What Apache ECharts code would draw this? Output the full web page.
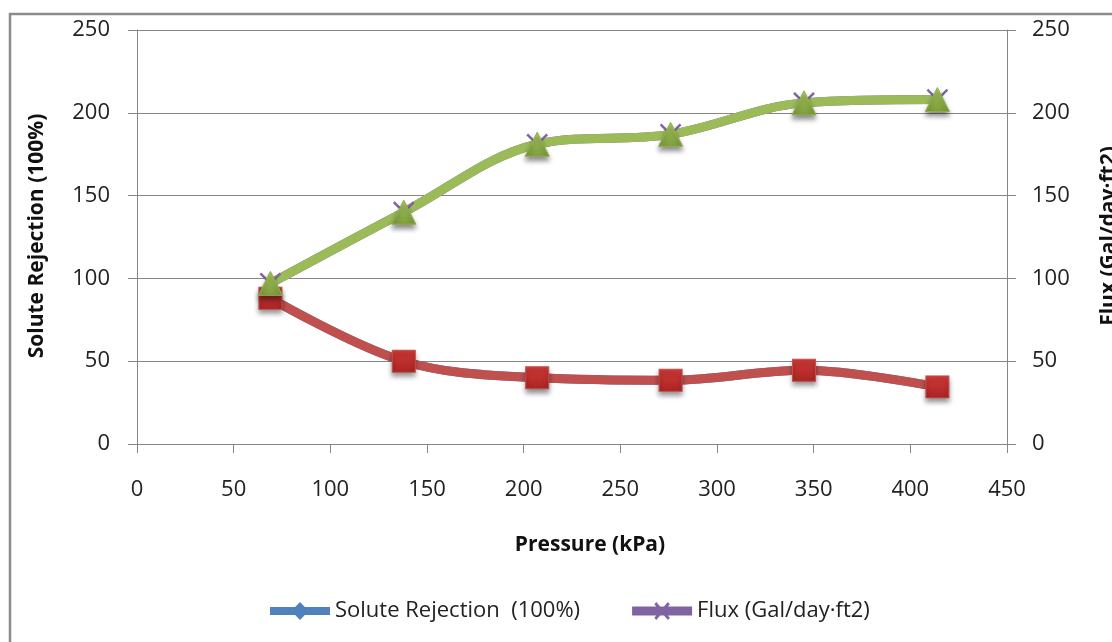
<!DOCTYPE html>
<html>
<head>
<meta charset="utf-8">
<script src="https://cdn.jsdelivr.net/npm/echarts@6/dist/echarts.min.js"></script>
<style>
html,body{margin:0;padding:0;background:#fff;}
#chart{width:1112px;height:642px;}
</style>
</head>
<body>
<div id="chart"></div>
<script>
var pressure = [69, 138, 207, 276, 345, 414];
var soluteRejection = [88, 50, 40, 38.5, 44.5, 34.5];
var flux = [97, 140, 181, 187, 206, 208];
var xTicks = [0, 450, 50];
var yTicks = [0, 250, 50];
var xTitle = 'Pressure (kPa)';
var yLeftTitle = 'Solute Rejection (100%)';
var yRightTitle = 'Flux (Gal/day\u00b7ft2)';
var legendNames = ['Solute Rejection  (100%)', 'Flux (Gal/day\u00b7ft2)'];

function pairs(xs, ys){ return xs.map(function(x,i){ return [x, ys[i]]; }); }

var FONT = '"Open Sans", sans-serif';
var AXIS_GRAY = '#868686';
var markerShadow = {shadowBlur: 5, shadowOffsetY: 4, shadowColor: 'rgba(0,0,0,0.45)'};

function grad(top, bottom){
  return new echarts.graphic.LinearGradient(0,0,0,1,[{offset:0,color:top},{offset:1,color:bottom}]);
}

var iconDiamondBar = 'path://M0,5 L62,5 L62,13 L0,13 Z M22,9 L31,0 L40,9 L31,18 Z';
var iconXBar = 'path://M0,5 L62,5 L62,13 L0,13 Z M23,3 L25,1 L39,15 L37,17 Z M37,1 L39,3 L25,17 L23,15 Z';

var chart = echarts.init(document.getElementById('chart'), null, {renderer:'canvas'});
var option = {
  animation: false,
  backgroundColor: '#fff',
  textStyle: {fontFamily: FONT},
  grid: {left: 137, right: 105, top: 30, bottom: 198, containLabel: false},
  legend: {
    data: [
      {name: legendNames[0], icon: iconDiamondBar, itemStyle: {color: '#4F81BD', borderWidth: 0}},
      {name: legendNames[1], icon: iconXBar, itemStyle: {color: '#8064A2', borderWidth: 0}}
    ],
    symbolKeepAspect: false,
    left: 265, top: 595,
    itemWidth: 60, itemHeight: 18, itemGap: 52,
    textStyle: {fontFamily: FONT, fontSize: 22, color: '#222'}
  },
  xAxis: {
    type: 'value', min: xTicks[0], max: xTicks[1], interval: xTicks[2],
    axisLine: {show: true, lineStyle: {color: AXIS_GRAY, width: 1}},
    axisTick: {show: true, inside: false, length: 9, lineStyle: {color: AXIS_GRAY}},
    splitLine: {show: false},
    axisLabel: {fontFamily: FONT, fontSize: 22, color: '#222', margin: 35}
  },
  yAxis: [{
    type: 'value', min: yTicks[0], max: yTicks[1], interval: yTicks[2], position: 'left',
    axisLine: {show: true, lineStyle: {color: AXIS_GRAY, width: 1}},
    axisTick: {show: true, inside: false, length: 9, lineStyle: {color: AXIS_GRAY}},
    splitLine: {show: true, lineStyle: {color: AXIS_GRAY, width: 1}},
    axisLabel: {fontFamily: FONT, fontSize: 22, color: '#222', margin: 27}
  },{
    type: 'value', min: yTicks[0], max: yTicks[1], interval: yTicks[2], position: 'right',
    axisLine: {show: true, lineStyle: {color: AXIS_GRAY, width: 1}},
    axisTick: {show: true, inside: false, length: 9, lineStyle: {color: AXIS_GRAY}},
    splitLine: {show: false},
    axisLabel: {fontFamily: FONT, fontSize: 22, color: '#222', margin: 25}
  }],
  graphic: [
    {type: 'rect', z: -1, silent: true, shape: {x: 10, y: 14, width: 1120, height: 650},
     style: {fill: 'none', stroke: '#8c8c8c', lineWidth: 2.5}},
    {type: 'text', x: 37, y: 236, rotation: Math.PI/2,
     style: {text: yLeftTitle, font: 'bold 21px ' + FONT, fill: '#111', textAlign: 'center', textVerticalAlign: 'middle'}},
    {type: 'text', x: 1109, y: 236, rotation: Math.PI/2,
     style: {text: yRightTitle, font: 'bold 21px ' + FONT, fill: '#111', textAlign: 'center', textVerticalAlign: 'middle'}},
    {type: 'text', x: 590, y: 545,
     style: {text: xTitle, font: 'bold 21px ' + FONT, fill: '#111', textAlign: 'center', textVerticalAlign: 'middle'}}
  ],
  series: [
    {
      name: legendNames[0], type: 'line', yAxisIndex: 0,
      data: pairs(pressure, soluteRejection), smooth: 0.35,
      symbol: 'diamond', symbolSize: 16,
      lineStyle: {color: '#4F81BD', width: 9},
      itemStyle: {color: '#4F81BD'}
    },
    {
      name: 'Solute Rejection', type: 'line', yAxisIndex: 0,
      data: pairs(pressure, soluteRejection), smooth: 0.35,
      symbol: 'rect', symbolSize: [23, 22],
      lineStyle: {color: '#C0504D', width: 9},
      itemStyle: Object.assign({color: grad('#d43a38', '#a82422'), borderColor: '#c0504d', borderWidth: 1}, markerShadow)
    },
    {
      name: legendNames[1], type: 'line', yAxisIndex: 1,
      data: pairs(pressure, flux), smooth: 0.35,
      symbol: 'path://M0,0 L10,10 M10,0 L0,10', symbolSize: 20,
      lineStyle: {color: '#8064A2', width: 9},
      itemStyle: {color: 'rgba(0,0,0,0)', borderColor: '#8064A2', borderWidth: 2.5}
    },
    {
      name: 'Flux', type: 'line', yAxisIndex: 1,
      data: pairs(pressure, flux), smooth: 0.35,
      symbol: 'triangle', symbolSize: [24, 24],
      lineStyle: {color: '#9BBB59', width: 9},
      itemStyle: Object.assign({color: grad('#a9ca5f', '#7d9c3c'), borderColor: '#8fb04c', borderWidth: 1}, markerShadow)
    }
  ]
};
chart.setOption(option);
</script>
</body>
</html>
